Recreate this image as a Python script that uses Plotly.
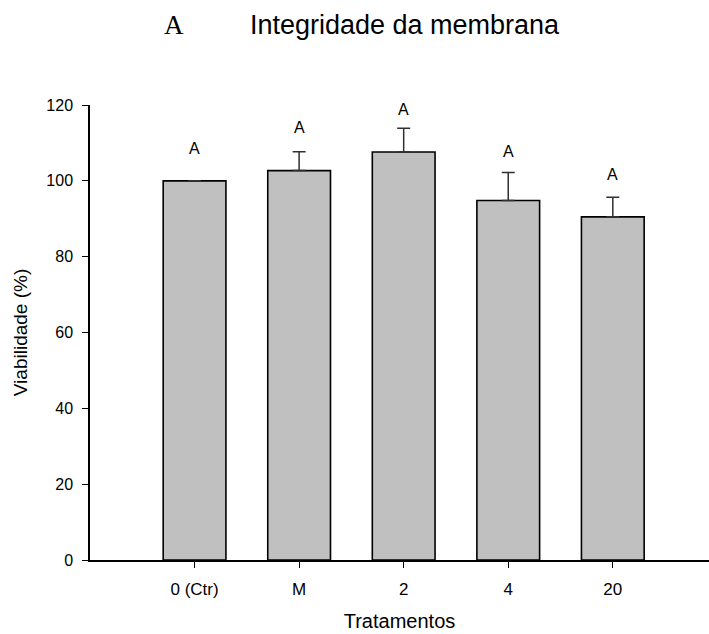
import plotly.graph_objects as go

categories = ["0 (Ctr)", "M", "2", "4", "20"]
viability = [100.0, 102.7, 107.6, 94.8, 90.5]
error_plus = [0.0, 5.0, 6.3, 7.4, 5.2]
letters = ["A", "A", "A", "A", "A"]
letter_y = [108.4, 114.0, 118.9, 107.8, 101.8]
y_ticks = [0, 20, 40, 60, 80, 100, 120]

xpos = list(range(len(categories)))

fig = go.Figure()
fig.add_trace(go.Bar(
    x=xpos, y=viability, width=0.6,
    marker=dict(color="#c0c0c0", line=dict(color="black", width=1.6)),
    error_y=dict(type="data", symmetric=False, array=error_plus, arrayminus=[0]*5,
                 color="#303030", thickness=1.5, width=6.5),
    showlegend=False,
))

for x, t, yv in zip(xpos, letters, letter_y):
    fig.add_annotation(x=x, y=yv, text=t, showarrow=False, xref="x", yref="y",
                       font=dict(family="Liberation Sans, Arial", size=16, color="black"),
                       yanchor="middle")

fig.add_annotation(x=(174 - 90) / 619, y=(560 - 25) / 455, xref="paper", yref="paper", text="A",
                   showarrow=False, xanchor="center", yanchor="middle",
                   font=dict(family="Liberation Serif, Times New Roman", size=27, color="black"))

fig.update_layout(
    width=709, height=634,
    margin=dict(l=90, r=0, t=105, b=74),
    paper_bgcolor="white", plot_bgcolor="white",
    title=dict(text="Integridade da membrana", x=404.5/709, xanchor="center",
               y=1 - 25/634, yanchor="middle", xref="container", yref="container",
               font=dict(family="Liberation Sans, Arial", size=27, color="black")),
    font=dict(family="Liberation Sans, Arial", size=16, color="black"),
)
fig.update_xaxes(
    range=[-1.0, 4.92], tickmode="array", tickvals=xpos, ticktext=categories,
    showline=True, linecolor="black", linewidth=1.5, ticks="outside", ticklen=6,
    tickcolor="black", showgrid=False, zeroline=False, ticklabelstandoff=7,
    tickfont=dict(size=17),
    title=dict(text="Tratamentos", font=dict(size=20), standoff=16),
)
fig.update_yaxes(
    range=[0, 120], tickmode="array", tickvals=y_ticks,
    showline=True, linecolor="black", linewidth=1.5, ticks="outside", ticklen=6,
    tickcolor="black", showgrid=False, zeroline=False, ticklabelstandoff=6,
    tickfont=dict(size=16),
    title=dict(text="Viabilidade (%)", font=dict(size=19), standoff=14),
)

fig.write_html("out.html")
